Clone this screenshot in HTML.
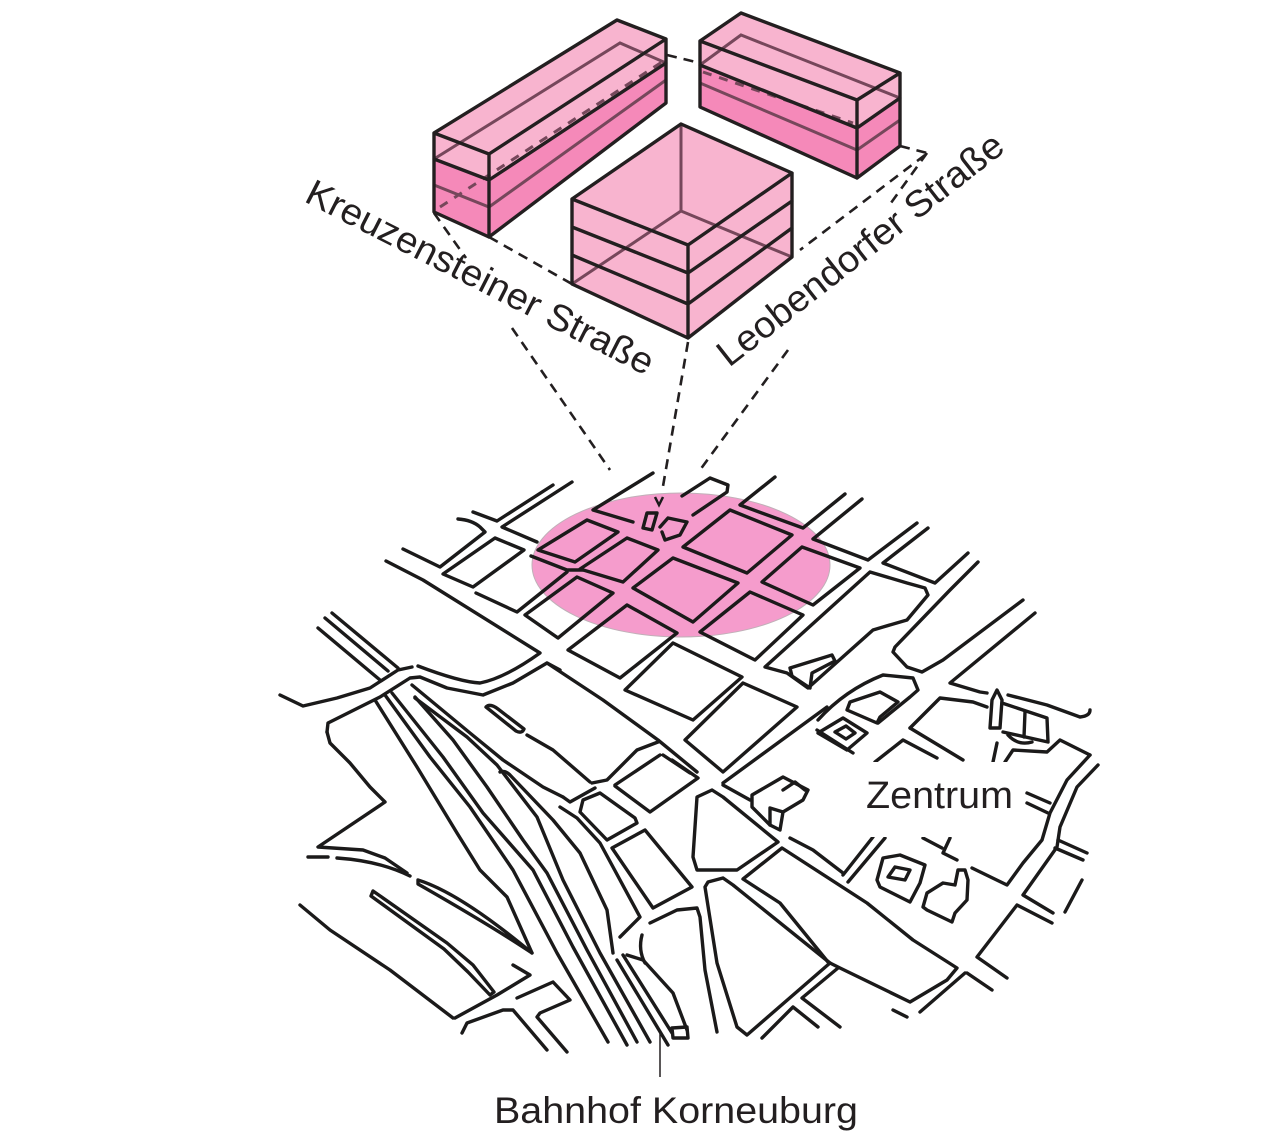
<!DOCTYPE html>
<html><head><meta charset="utf-8"><style>
html,body{margin:0;padding:0;background:#fff;}
svg{display:block;}
.m{fill:none;stroke:#1b1a1a;stroke-width:3.4;stroke-linecap:round;stroke-linejoin:round;}
.b{fill:none;stroke:#231f20;stroke-width:3.4;stroke-linejoin:round;stroke-linecap:round;}
.g{fill:none;stroke:#76475b;stroke-width:3;stroke-linecap:round;}
.d{fill:none;stroke:#231f20;stroke-width:2.6;stroke-dasharray:10 7;}
.gd{fill:none;stroke:#76475b;stroke-width:3;stroke-dasharray:9 8;}
.t{font-family:"Liberation Sans",sans-serif;fill:#231f20;}
</style></head><body>
<svg width="1278" height="1144" viewBox="0 0 1278 1144" xmlns="http://www.w3.org/2000/svg">
<rect width="1278" height="1144" fill="#fff"/>

<!-- pink ellipse -->
<ellipse cx="681" cy="565" rx="149" ry="72" fill="#f59ccc" stroke="#c0b0b8" stroke-width="1"/>

<!-- MAP -->
<g class="m">
<path d="M473,512 L497,521 L553,485"/>
<path d="M572,482 L502,527 L537,542"/>
<path d="M458,519 Q472,520 480,527 L485,532 L440,567 L403,549"/>
<path d="M443,574 L495,538 L524,550 L473,587 Z"/>
<path d="M386,561 L423,580 L540,653 Q505,678 480,683 Q460,682 418,666"/>
<path d="M476,593 L517,612 L567,572"/>
<path d="M531,556 L567,570 L583,570"/>
<path d="M538,550 L587,520 L618,532 L575,562 Z"/>
<path d="M580,569 L627,538 L658,550 L623,582 Z"/>
<path d="M525,615 L577,577 L613,593 L558,638 Z"/>
<path d="M633,588 L673,558 L738,583 L693,622 Z"/>
<path d="M568,650 L627,605 L677,633 L620,678 Z"/>
<path d="M683,547 L730,510 L792,535 L747,573 Z"/>
<path d="M762,582 L802,547 L860,568 L813,605 Z"/>
<path d="M700,632 L750,592 L803,615 L755,660 Z"/>
<path d="M653,473 L593,510 L633,522"/>
<path d="M682,496 L710,478 L728,485 L727,492 L693,515"/>
<path d="M775,477 L740,505 L803,528 L845,494"/>
<path d="M862,499 L813,539 L868,560 L917,523"/>
<path d="M928,528 L883,563 L935,583 L968,553"/>
<path d="M978,562 L950,590 L895,647 L893,652 L907,667 L922,672 L943,660 L1023,600"/>
<path d="M765,667 L870,572 L907,583 L925,588 L928,595 L907,620 L883,627 L873,630 L808,688 L787,673 Z"/>
<path d="M790,668 L832,655 L835,661 L812,673 L810,688 M790,668 L792,676 L810,688"/>
<path d="M1035,613 L950,683 L980,692 L987,693"/>
<path d="M818,720 Q845,690 883,675 L913,678 L918,690 L910,697 L878,723"/>
<path d="M817,730 L853,753"/>
<path d="M850,702 L880,692 L898,702 L880,717 L877,723 L847,710 Z"/>
<path d="M818,733 L843,718 L867,733 L847,750 Z"/>
<path d="M835,732 L846,726 L855,733 L846,739 Z"/>
<path d="M910,728 L940,698 L973,702 L987,707"/>
<path d="M910,728 L963,760"/>
<path d="M875,762 L903,740 L937,758"/>
<path d="M990,728 L992,700 L997,690 L1002,700 L1000,728 Z"/>
<path d="M1002,703 L1047,718 L1048,742 L1003,732"/>
<path d="M1025,712 L1024,737"/>
<path d="M1008,735 Q1018,746 1032,742"/>
<path d="M1008,695 L1047,705 L1080,717 Q1090,716 1090,710"/>
<path d="M997,743 L993,762"/>
<path d="M1005,762 L1013,750 L1047,752 L1060,740 L1090,755"/>
<path d="M1090,755 L1067,780 L1050,813 L1042,840 L1023,863 L1007,885 L972,868"/>
<path d="M1098,765 L1077,787 L1060,827 L1057,847 L1023,895 L1053,913"/>
<path d="M1027,793 L1050,803 M1027,803 L1048,813"/>
<path d="M1058,840 L1087,853 M1055,848 L1083,860"/>
<path d="M1082,880 L1065,912"/>
<path d="M1052,923 L1017,905 L977,957 L1007,978"/>
<path d="M923,838 L942,848 M950,838 L943,853 L957,860"/>
<path d="M843,875 L873,837 M848,882 L885,838"/>
<path d="M790,838 L813,850 L843,873"/>
<path d="M877,880 L883,858 L900,855 L925,865 L920,883 L910,902 L880,887 Z"/>
<path d="M888,877 L895,867 L910,870 L905,880 Z"/>
<path d="M923,907 L927,893 L943,883 L955,885 L958,870 L965,870 L968,880 L967,900 L955,913 L952,922 L927,910 Z"/>
<path d="M743,879 L782,848 L867,903 L913,940 L957,968 L947,980 L910,1002 L840,968 L828,962 L780,903 Z"/>
<path d="M697,797 L712,790 L723,797 L778,842 L737,870 L697,870 L693,857 Z"/>
<path d="M705,887 L708,882 L723,878 L733,885 L830,963 L747,1035 L737,1027 L717,963 Z"/>
<path d="M802,998 L838,968 M802,998 L840,1027"/>
<path d="M793,1007 L818,1027 M793,1007 L762,1038"/>
<path d="M920,1012 L965,973 M967,973 L992,990 M893,1010 L907,1017"/>
<path d="M650,923 L677,910 L697,908 L700,917 L705,970 L717,1032"/>
<path d="M752,795 L783,777 L808,790 L803,800 L783,812 L780,830 L770,825 L752,807 Z"/>
<path d="M783,790 L795,782 L805,790 M770,825 L770,808 L783,812"/>
<path d="M723,785 L750,800 M723,783 L827,707"/>
<path d="M685,740 L743,683 L797,707 L723,772 Z"/>
<path d="M625,690 L673,643 L742,677 L693,720 Z"/>
<path d="M547,663 L603,700 L658,740 L697,772"/>
<path d="M615,786 L650,812 L698,778 L672,760"/>
<path d="M615,785 L660,755 M663,755 L690,773"/>
<path d="M583,800 L580,812 L607,840 L637,823 L635,818 L600,793 Z"/>
<path d="M612,848 L645,830 L692,887 L653,908 Z"/>
<path d="M563,797 L570,802 L595,788"/>
<path d="M560,807 L577,818 L600,843 L613,867 L640,917 L620,937"/>
<path d="M642,935 Q638,950 645,963"/>
<path d="M486,707 Q490,703 498,709 L524,729 Q522,734 516,731 Z"/>
<path d="M527,735 L553,750 L590,782"/>
<path d="M592,783 L607,780 L637,750 L658,742"/>
<!-- railway -->
<path d="M375,700 L417,767 L457,833 L480,870 L507,897 L532,953"/>
<path d="M385,695 L430,757 L470,807 L513,870 L557,953 L608,1042"/>
<path d="M392,693 L443,757 L483,813 L533,870 L573,947 L627,1045"/>
<path d="M415,697 L453,740 L487,787 L523,840 L547,873 L587,950 L637,1042"/>
<path d="M415,698 L467,737 L497,765 L537,817 L563,880 L600,953 L650,1042"/>
<path d="M412,685 L470,733 L503,760 L543,787 L563,797"/>
<path d="M500,772 Q505,770 510,775 L553,820 L580,853 L607,910 L613,953"/>
<path d="M617,960 L668,1045 M623,955 L672,1033"/>
<path d="M627,955 L643,960 L673,993 L687,1030"/>
<path d="M672,1028 L687,1027 L688,1038 L673,1038 Z"/>
<!-- left part -->
<path d="M332,613 L398,668"/>
<path d="M325,618 L388,671"/>
<path d="M318,628 L380,680"/>
<path d="M280,695 L303,706 L337,698 L370,688 L398,670 L412,667"/>
<path d="M327,732 L328,723 L340,717 L380,697 L410,678 L420,677 L447,688 L483,695 L513,683 L547,663 L560,670"/>
<path d="M327,732 L330,743 L350,763 L370,787 L385,802 L318,847 L363,850 L385,858 L407,873"/>
<path d="M308,857 L328,857"/>
<path d="M337,858 Q380,861 410,876"/>
<path d="M300,905 L330,930 L390,970 L453,1018"/>
<path d="M373,891 L447,943 L473,965 L494,992 L490,995 L468,972 L444,949 L371,896 Z"/>
<path d="M418,880 Q460,893 532,953 Q490,925 418,884 Z"/>
<path d="M455,1018 L497,995 L530,975 L513,965"/>
<path d="M462,1033 L467,1023 L503,1010 L513,1010 L547,1050"/>
<path d="M517,998 L553,982 L570,1000 L540,1013 L537,1017 L567,1052"/>
<!-- icon -->
<path d="M647,513 L657,513 L652,530 L643,528 Z"/>
<path d="M660,527 L668,518 L687,522 L680,535 L665,540 L662,532"/>
</g>
<path d="M655,497 L659,505 L663,497" fill="none" stroke="#1b1a1a" stroke-width="2.5"/>

<!-- Zentrum label box -->
<rect x="830" y="762" width="195" height="75" fill="#fff"/>
<text class="t" x="866" y="808" font-size="38" textLength="147" lengthAdjust="spacingAndGlyphs">Zentrum</text>

<!-- leader line -->
<line x1="660" y1="1033" x2="660" y2="1077" stroke="#231f20" stroke-width="1.5"/>
<text class="t" x="494" y="1123" font-size="37" textLength="364" lengthAdjust="spacingAndGlyphs">Bahnhof Korneuburg</text>

<!-- dashed connectors -->
<g class="d">
<path d="M434,213 L466,258"/>
<path d="M512,328 L610,470"/>
<path d="M489,237 L572,284"/>
<path d="M667,55 L700,63"/>
<path d="M900,146 L927,153"/>
<path d="M925,155 L800,250"/>
<path d="M927,153 L888,207"/>
<path d="M788,350 L700,470"/>
<path d="M688,342 L662,492"/>
</g>

<!-- Left bar building -->
<polygon points="434,133 617,20 666,39 489,154" fill="#f8b4cf"/>
<polygon points="434,133 489,154 489,180 434,159" fill="#f8b4cf"/>
<polygon points="434,159 489,180 489,237 434,212" fill="#f589b9"/>
<polygon points="489,154 666,39 666,63 489,180" fill="#f8b4cf"/>
<polygon points="489,180 666,63 666,103 489,237" fill="#f589b9"/>
<path class="g" d="M434,159 L620,43 L666,63"/>
<path class="g" d="M434,185 L489,207 L666,80"/>
<path class="gd" d="M440,207 L662,62"/>
<path class="b" d="M434,133 L617,20 L666,39 L666,103 L489,237 L434,212 Z M434,133 L489,154 L666,39 M489,154 L489,237 M434,159 L489,180 L666,63"/>

<!-- Right bar building -->
<polygon points="700,41 741,13 900,73 857,100" fill="#f8b4cf"/>
<polygon points="700,41 857,100 857,128 700,65" fill="#f8b4cf"/>
<polygon points="700,65 857,128 857,178 700,107" fill="#f589b9"/>
<polygon points="857,100 900,73 900,98 857,128" fill="#f8b4cf"/>
<polygon points="857,128 900,98 900,146 857,178" fill="#f589b9"/>
<path class="g" d="M700,65 L741,35 L900,98"/>
<path class="g" d="M700,83 L857,150 L900,120"/>
<path class="gd" d="M703,72 L853,123"/>
<path class="b" d="M700,41 L741,13 L900,73 L900,146 L857,178 L700,107 Z M700,41 L857,100 L900,73 M857,100 L857,178 M700,65 L857,128 L900,98"/>

<!-- Center cube -->
<polygon points="572,199 681,124 792,173 792,257 688,338 572,284" fill="#f8b4cf"/>
<path class="g" d="M681,124 L681,211 L572,284 M681,211 L792,257"/>
<path class="b" d="M572,199 L681,124 L792,173 L792,257 L688,338 L572,284 Z M572,199 L688,245 L792,173 M688,245 L688,338 M572,227 L688,273 L792,201 M572,255 L688,304 L792,228"/>

<!-- street labels -->
<text class="t" x="303" y="201" font-size="37" textLength="385" lengthAdjust="spacingAndGlyphs" transform="rotate(27 303 201)">Kreuzensteiner Straße</text>
<text class="t" x="729" y="368" font-size="37" textLength="353" lengthAdjust="spacingAndGlyphs" transform="rotate(-38.1 729 368)">Leobendorfer Straße</text>
</svg>
</body></html>
